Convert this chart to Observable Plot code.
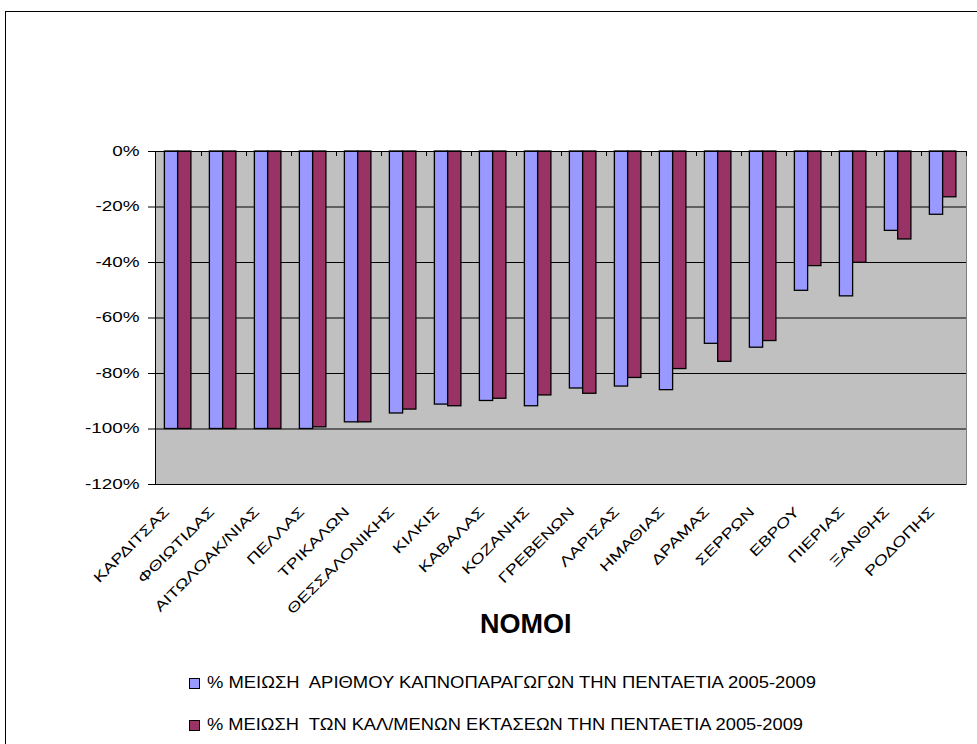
<!DOCTYPE html>
<html>
<head>
<meta charset="utf-8">
<script src="https://cdn.jsdelivr.net/npm/d3@7"></script>
<script src="https://cdn.jsdelivr.net/npm/@observablehq/plot@0.6"></script>
<style>
  html, body { margin: 0; padding: 0; background: #fff; }
  body { width: 977px; height: 744px; overflow: hidden; position: relative; font-family: "Liberation Sans", Arial, sans-serif; }
  #border { position: absolute; left: 5px; top: 11px; width: 1000px; height: 800px; border: 1px solid #000; box-sizing: border-box; }
  #chart { position: absolute; left: 0; top: 0; }
  #chart svg { overflow: visible; }
  #title { position: absolute; left: 480px; top: 611px; font-size: 27px; font-weight: bold; line-height: 1; color: #000; }
  .leg { position: absolute; left: 189px; height: 14px; white-space: pre; font-size: 17px; line-height: 14px; color: #000; }
  .leg .sw { position: absolute; left: 0; top: 1px; width: 9px; height: 9px; border: 1px solid #000; }
  .leg .tx { position: absolute; left: 18px; top: -1px; transform-origin: 0 50%; display: inline-block; }
</style>
</head>
<body>
<div id="border"></div>
<div id="chart"></div>
<div id="title">ΝΟΜΟΙ</div>
<div id="legend"></div>
<script>
const categories = ["ΚΑΡΔΙΤΣΑΣ","ΦΘΙΩΤΙΔΑΣ","ΑΙΤΩΛΟΑΚ/ΝΙΑΣ","ΠΕΛΛΑΣ","ΤΡΙΚΑΛΩΝ","ΘΕΣΣΑΛΟΝΙΚΗΣ","ΚΙΛΚΙΣ","ΚΑΒΑΛΑΣ","ΚΟΖΑΝΗΣ","ΓΡΕΒΕΝΩΝ","ΛΑΡΙΣΑΣ","ΗΜΑΘΙΑΣ","ΔΡΑΜΑΣ","ΣΕΡΡΩΝ","ΕΒΡΟΥ","ΠΙΕΡΙΑΣ","ΞΑΝΘΗΣ","ΡΟΔΟΠΗΣ"];
const producers = [-100,-100,-100,-100,-97.6,-94.4,-91.2,-89.9,-91.8,-85.4,-84.7,-86.0,-69.3,-70.7,-50.2,-52.2,-28.6,-22.8];
const areas = [-100,-100,-100,-99.4,-97.6,-93.0,-91.8,-89.1,-87.9,-87.3,-81.6,-78.4,-75.8,-68.3,-41.3,-40.1,-31.7,-16.5];
const yTicks = [0,-20,-40,-60,-80,-100,-120];
const seriesNames = ["% ΜΕΙΩΣΗ  ΑΡΙΘΜΟΥ ΚΑΠΝΟΠΑΡΑΓΩΓΩΝ ΤΗΝ ΠΕΝΤΑΕΤΙΑ 2005-2009","% ΜΕΙΩΣΗ  ΤΩΝ ΚΑΛ/ΜΕΝΩΝ ΕΚΤΑΣΕΩΝ ΤΗΝ ΠΕΝΤΑΕΤΙΑ 2005-2009"];
const seriesColors = ["#9999FF","#993366"];

const data = categories.map((c, i) => ({nomos: c, producers: producers[i], area: areas[i]}));

const W = 977, ML = 155, MR = 11;
const step = (W - ML - MR) / categories.length;
const barW = step * 0.295;
const gapL = step * 0.186;

const svg = Plot.plot({
  width: W,
  height: 660,
  marginTop: 151,
  marginBottom: 176,
  marginLeft: ML,
  marginRight: MR,
  style: {fontFamily: "'Liberation Sans', Arial, sans-serif", fontSize: "14px", color: "#000", background: "transparent", overflow: "visible"},
  x: {domain: categories, padding: 0, axis: null},
  y: {domain: [-120, 0], axis: null},
  marks: [
    Plot.frame({fill: "#C0C0C0", stroke: "#808080"}),
    Plot.ruleY(yTicks, {stroke: "#000", strokeWidth: 1}),
    Plot.barY(data, {x: "nomos", y: "producers", fill: seriesColors[0], stroke: "#000", strokeWidth: 1.3, insetLeft: gapL, insetRight: step - gapL - barW}),
    Plot.barY(data, {x: "nomos", y: "area", fill: seriesColors[1], stroke: "#000", strokeWidth: 1.3, insetLeft: gapL + barW, insetRight: step - gapL - 2 * barW}),
    Plot.ruleX(categories, {x: d => d, y1: 0, y2: -1.8, dx: step / 2, stroke: "#000"}),
    Plot.frame({anchor: "left", stroke: "#000"}),
    Plot.ruleY([0], {stroke: "#000"}),
    Plot.axisY({ticks: yTicks, tickFormat: d => d + "%", tickSize: 7, tickPadding: 9, fontSize: 14, label: null}),
    Plot.axisX({tickRotate: -45, tickSize: 0, tickPadding: 25, dx: -12, fontSize: 14, label: null})
  ]
});
document.getElementById("chart").appendChild(svg);

// horizontal stretch of tick labels, as in the original rendering
svg.querySelectorAll('g[aria-label="y-axis tick label"] text').forEach(t => {
  t.setAttribute("transform", (t.getAttribute("transform") || "") + " scale(1.35,1)");
});
svg.querySelectorAll('g[aria-label="x-axis tick label"] text').forEach(t => {
  t.setAttribute("transform", (t.getAttribute("transform") || "") + " scale(1.33,1)");
});

// legend
const legend = document.getElementById("legend");
const legTops = [677, 719];
const legWidths = [609, 596];
seriesNames.forEach((name, i) => {
  const row = document.createElement("div");
  row.className = "leg";
  row.style.top = legTops[i] + "px";
  const sw = document.createElement("span");
  sw.className = "sw";
  sw.style.background = seriesColors[i];
  const tx = document.createElement("span");
  tx.className = "tx";
  tx.textContent = name;
  row.appendChild(sw);
  row.appendChild(tx);
  legend.appendChild(row);
  const w = tx.getBoundingClientRect().width;
  tx.style.transform = `scaleX(${legWidths[i] / w})`;
});
</script>
</body>
</html>
